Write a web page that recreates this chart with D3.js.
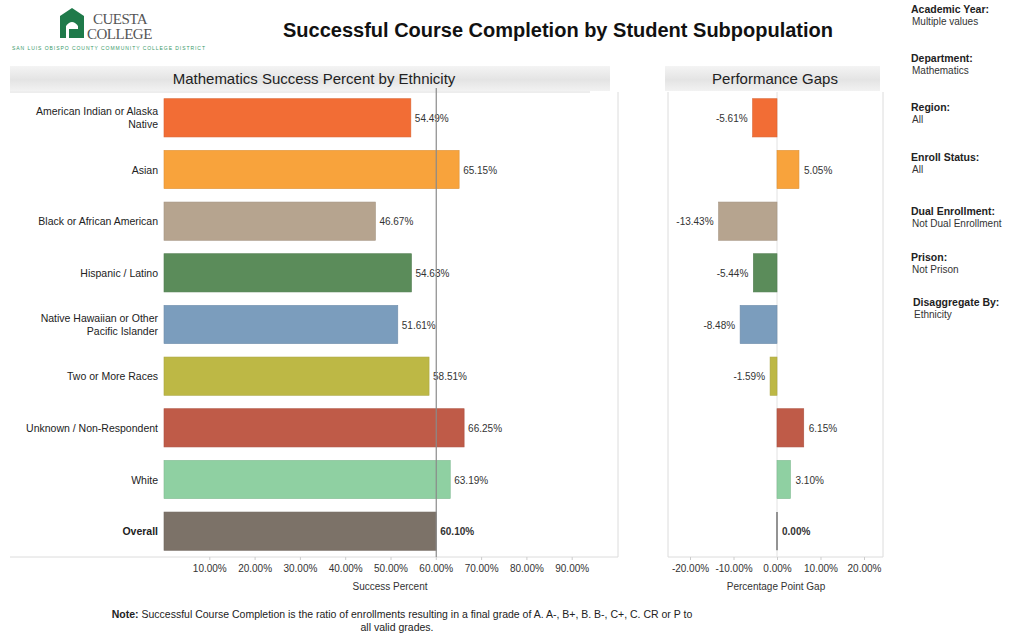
<!DOCTYPE html>
<html>
<head>
<meta charset="utf-8">
<script src="https://cdn.jsdelivr.net/npm/d3@7"></script>
<style>
body{margin:0;background:#fff;font-family:"Liberation Sans",Arial,sans-serif;}
</style>
</head>
<body>
<svg id="chart" width="1026" height="635"></svg>
<script>
// data
var categories=['American Indian or Alaska Native','Asian','Black or African American','Hispanic / Latino','Native Hawaiian or Other Pacific Islander','Two or More Races','Unknown / Non-Respondent','White','Overall'];
var labelLines=[['American Indian or Alaska','Native'],['Asian'],['Black or African American'],['Hispanic / Latino'],['Native Hawaiian or Other','Pacific Islander'],['Two or More Races'],['Unknown / Non-Respondent'],['White'],['Overall']];
var successPct=[54.49,65.15,46.67,54.63,51.61,58.51,66.25,63.19,60.10];
var gapPct=[-5.61,5.05,-13.43,-5.44,-8.48,-1.59,6.15,3.10,0.00];
var colors=['#f26d35','#f8a33c','#b6a48f','#5b8c5a','#7b9dbd','#bdb845','#bf5b48','#8fd0a2','#7c7268'];
var successTicks=[10,20,30,40,50,60,70,80,90];
var gapTicks=[-20,-10,0,10,20];
var filters=[['Academic Year:','Multiple values'],['Department:','Mathematics'],['Region:','All'],['Enroll Status:','All'],['Dual Enrollment:','Not Dual Enrollment'],['Prison:','Not Prison'],['Disaggregate By:','Ethnicity']];
var filterY=[9,58,107,157,211,257,302];

var svg=d3.select('#chart');
var fmt=function(v){return v.toFixed(2)+'%';};

// gradient for header bands
var defs=svg.append('defs');
var grad=defs.append('linearGradient').attr('id','hdr').attr('x1',0).attr('y1',0).attr('x2',0).attr('y2',1);
grad.append('stop').attr('offset','0%').attr('stop-color','#f4f4f4');
grad.append('stop').attr('offset','55%').attr('stop-color','#e4e4e4');
grad.append('stop').attr('offset','100%').attr('stop-color','#f2f2f2');

// logo
var logo=svg.append('g');
logo.append('path').attr('d','M60,38 L60,16 L72,8 L84,16 L84,38 Z').style('fill','#1f7a4a');
logo.append('path').attr('d','M66,38 L66,26 Q72,18 78,26 L78,38 Z').style('fill','#fff');
logo.append('rect').attr('x',69).attr('y',29).attr('width',9).attr('height',9).style('fill','#1f7a4a');
logo.append('text').text('CUESTA').attr('x',93).attr('y',24).style('font-family','"Liberation Serif",serif').style('font-size','15px').style('fill','#555').style('letter-spacing','-0.5px');
logo.append('text').text('COLLEGE').attr('x',87).attr('y',39).style('font-family','"Liberation Serif",serif').style('font-size','15px').style('fill','#555').style('letter-spacing','-0.5px');
logo.append('text').text('SAN LUIS OBISPO COUNTY COMMUNITY COLLEGE DISTRICT').attr('x',12).attr('y',50).attr('textLength',193).style('font-size','5px').style('fill','#3a9a6a');

// title
svg.append('text').text('Successful Course Completion by Student Subpopulation')
  .attr('x',558).attr('y',37).attr('text-anchor','middle')
  .style('font-size','20px').style('font-weight','bold').style('fill','#111');

// filters
filters.forEach(function(f,i){
  var x=i==6?913:911;
  svg.append('text').text(f[0]).attr('x',x).attr('y',filterY[i]+4).style('font-size','10.5px').style('font-weight','bold').style('fill','#222');
  svg.append('text').text(f[1]).attr('x',x+1).attr('y',filterY[i]+16).style('font-size','10px').style('fill','#333');
});

// scales
var y=d3.scaleBand().domain(categories).range([92,557]).paddingInner(0.26).paddingOuter(0.13);
var xL=d3.scaleLinear().domain([0,100]).range([164,617]);
var xR=d3.scaleLinear().domain([-25.06,24.14]).range([668,882]);

// headers
svg.append('rect').attr('x',10).attr('y',66).attr('width',600).attr('height',25).style('fill','url(#hdr)');
svg.append('text').text('Mathematics Success Percent by Ethnicity').attr('x',314).attr('y',84).attr('text-anchor','middle').style('font-size','15px').style('fill','#222');
svg.append('rect').attr('x',665).attr('y',66).attr('width',215).attr('height',25).style('fill','url(#hdr)');
svg.append('text').text('Performance Gaps').attr('x',775).attr('y',84).attr('text-anchor','middle').style('font-size','15px').style('fill','#222');

// panel frames
var frame='#dcdcdc';
svg.append('line').attr('x1',10).attr('x2',590).attr('y1',92).attr('y2',92).style('stroke',frame);
svg.append('line').attr('x1',618).attr('x2',618).attr('y1',92).attr('y2',557).style('stroke',frame);
svg.append('line').attr('x1',10).attr('x2',618).attr('y1',557).attr('y2',557).style('stroke',frame);
svg.append('line').attr('x1',668).attr('x2',668).attr('y1',92).attr('y2',557).style('stroke',frame);
svg.append('line').attr('x1',883).attr('x2',883).attr('y1',92).attr('y2',557).style('stroke',frame);
svg.append('line').attr('x1',668).attr('x2',883).attr('y1',557).attr('y2',557).style('stroke',frame);

// left bars
var left=svg.append('g');
left.selectAll('rect.bar').data(categories).enter().append('rect').attr('class','bar')
  .attr('x',xL(0)).attr('y',function(d){return y(d);})
  .attr('width',function(d,i){return xL(successPct[i])-xL(0);})
  .attr('height',y.bandwidth())
  .style('fill',function(d,i){return colors[i];})
  .style('stroke',function(d,i){return d3.color(colors[i]).darker(0.3);}).style('stroke-width',0.6);

// category labels
categories.forEach(function(c,i){
  var lines=labelLines[i];
  var cy=y(c)+y.bandwidth()/2;
  var t=left.append('text').attr('x',158).attr('text-anchor','end')
    .style('font-size','10.5px').style('fill','#222').style('font-weight',c=='Overall'?'bold':'normal');
  lines.forEach(function(l,j){
    t.append('tspan').text(l).attr('x',158).attr('y',cy+4+(j-(lines.length-1)/2)*13);
  });
  left.append('text').text(fmt(successPct[i]))
    .attr('x',xL(successPct[i])+4).attr('y',cy+4)
    .style('font-size','10px').style('fill','#333').style('font-weight',c=='Overall'?'bold':'normal');
});

// reference line at overall
var overall=successPct[categories.indexOf('Overall')];
svg.append('line').attr('x1',xL(overall)).attr('x2',xL(overall)).attr('y1',88).attr('y2',557).style('stroke','#8a8a8a').style('stroke-width',1.2);

// left axis
var axL=svg.append('g').attr('transform','translate(0,557)')
  .call(d3.axisBottom(xL).tickValues(successTicks).tickFormat(function(d){return d.toFixed(2)+'%';}).tickSize(3));
axL.select('.domain').remove();
axL.selectAll('line').style('stroke','#ccc');
axL.selectAll('text').style('font-size','10px').style('fill','#333').style('font-family','"Liberation Sans",Arial,sans-serif').attr('dy','0.9em');
svg.append('text').text('Success Percent').attr('x',390).attr('y',590).attr('text-anchor','middle').style('font-size','10px').style('fill','#333');

// right panel
var right=svg.append('g');
right.append('line').attr('x1',xR(0)).attr('x2',xR(0)).attr('y1',92).attr('y2',557).style('stroke','#e2e2e2');
right.selectAll('rect.gap').data(categories).enter().append('rect').attr('class','gap')
  .attr('x',function(d,i){return xR(Math.min(0,gapPct[i]));})
  .attr('y',function(d){return y(d);})
  .attr('width',function(d,i){return Math.abs(xR(gapPct[i])-xR(0));})
  .attr('height',y.bandwidth())
  .style('fill',function(d,i){return colors[i];})
  .style('stroke',function(d,i){return d3.color(colors[i]).darker(0.3);}).style('stroke-width',0.6);
var ov=categories.indexOf('Overall');
right.append('line').attr('x1',xR(0)).attr('x2',xR(0)).attr('y1',y('Overall')).attr('y2',y('Overall')+y.bandwidth()).style('stroke','#555').style('stroke-width',1.2);
categories.forEach(function(c,i){
  var v=gapPct[i];
  right.append('text').text(fmt(v))
    .attr('x',v<0?xR(v)-5:xR(v)+5).attr('y',y(c)+y.bandwidth()/2+4)
    .attr('text-anchor',v<0?'end':'start')
    .style('font-size','10px').style('fill','#333').style('font-weight',i==ov?'bold':'normal');
});
var axR=svg.append('g').attr('transform','translate(0,557)')
  .call(d3.axisBottom(xR).tickValues(gapTicks).tickFormat(function(d){return d.toFixed(2)+'%';}).tickSize(3));
axR.select('.domain').remove();
axR.selectAll('line').style('stroke','#ccc');
axR.selectAll('text').style('font-size','10px').style('fill','#333').style('font-family','"Liberation Sans",Arial,sans-serif').attr('dy','0.9em');
svg.append('text').text('Percentage Point Gap').attr('x',776).attr('y',590).attr('text-anchor','middle').style('font-size','10px').style('fill','#333');

// note
var note=svg.append('text').attr('x',402).attr('y',618).attr('text-anchor','middle').style('font-size','10.5px').style('fill','#222');
note.append('tspan').text('Note:').style('font-weight','bold');
note.append('tspan').text(' Successful Course Completion is the ratio of enrollments resulting in a final grade of A. A-, B+, B. B-, C+, C. CR or P to');
svg.append('text').text('all valid grades.').attr('x',397).attr('y',631).attr('text-anchor','middle').style('font-size','10.5px').style('fill','#222');
</script>
</body>
</html>
